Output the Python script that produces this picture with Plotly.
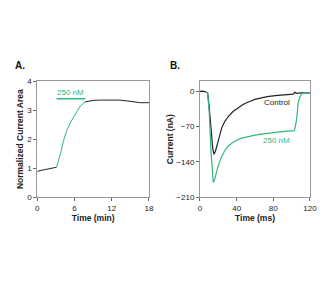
import plotly.graph_objects as go

GREEN = "#35b57a"
FONT = "Liberation Sans, Arial, sans-serif"
W, H = 332, 284

# Panel A data
a_pre_t = [0, 0.5, 1, 1.5, 2, 2.5, 3.1]
a_pre_y = [0.89, 0.92, 0.94, 0.96, 0.98, 1.00, 1.03]
a_drug_t = [3.1, 3.4, 3.7, 4.2, 4.7, 5.3, 6.1, 6.9, 7.7]
a_drug_y = [1.03, 1.25, 1.47, 1.93, 2.27, 2.56, 2.85, 3.14, 3.29]
a_post_t = [7.7, 8.3, 9.0, 10, 11.7, 13.3, 14.9, 16.6, 18]
a_post_y = [3.29, 3.32, 3.34, 3.35, 3.35, 3.35, 3.31, 3.26, 3.26]
a_bar_t = [3.1, 7.7]
a_bar_y = [3.40, 3.40]

# Panel B data
ctrl_t = [0, 3, 6, 8.3, 10, 12, 14, 15.3, 17, 20, 23.6, 27, 30.9, 36, 41.8, 47, 52.7, 60, 67, 75, 85, 95, 101.8, 103.6, 105, 110, 115, 120]
ctrl_y = [0, 0.5, -1, -3, -30, -80, -115, -125, -118, -98, -73, -60, -50, -40, -32, -26, -21, -16, -13, -10, -8, -6.5, -5.5, -1.4, -4, -3, -3, -3]
drug_t = [6, 8.3, 10, 12, 14.5, 16, 20, 23.5, 27.3, 30.5, 34.5, 40, 45.5, 52, 60, 67, 74.5, 82, 89, 96, 102.9, 104.5, 105.5, 107.3, 110, 113, 120]
drug_y = [-1, -3, -40, -120, -181, -175, -147, -130, -117, -109, -103, -97, -93, -90, -87, -85, -83, -81, -80, -79, -78, -65, -54, -20, -7, -3, -3]

fig = go.Figure()
fig.add_trace(go.Scatter(x=a_pre_t, y=a_pre_y, mode="lines", line=dict(color="#222", width=1), xaxis="x", yaxis="y"))
fig.add_trace(go.Scatter(x=a_drug_t, y=a_drug_y, mode="lines", line=dict(color=GREEN, width=1), xaxis="x", yaxis="y"))
fig.add_trace(go.Scatter(x=a_post_t, y=a_post_y, mode="lines", line=dict(color="#222", width=1), xaxis="x", yaxis="y"))
fig.add_trace(go.Scatter(x=a_bar_t, y=a_bar_y, mode="lines", line=dict(color=GREEN, width=1.5), xaxis="x", yaxis="y"))

fig.add_trace(go.Scatter(x=ctrl_t, y=ctrl_y, mode="lines", line=dict(color="#222", width=1.2), xaxis="x2", yaxis="y2"))
fig.add_trace(go.Scatter(x=drug_t, y=drug_y, mode="lines", line=dict(color=GREEN, width=1.2), xaxis="x2", yaxis="y2"))

axis_common = dict(showgrid=False, zeroline=False, showline=True, linecolor="#999", linewidth=1,
                   mirror=True, ticks="outside", ticklen=3, tickcolor="#666", automargin=False,
                   tickfont=dict(size=8, color="#222", family=FONT))
title_font = dict(size=8.5, family=FONT, color="#222")

fig.update_layout(
    width=W, height=H, margin=dict(l=0, r=0, t=0, b=0),
    paper_bgcolor="white", plot_bgcolor="white", showlegend=False,
    xaxis=dict(domain=[0.1124, 0.4488], range=[0, 18], tickvals=[0, 6, 12, 18], anchor="y",
               title=dict(text="<b>Time (min)</b>", font=title_font, standoff=3), **axis_common),
    yaxis=dict(domain=[0.3063, 0.7137], range=[0, 4], tickvals=[0, 1, 2, 3, 4], anchor="x",
               title=dict(text="<b>Normalized Current Area</b>", font=title_font, standoff=2), **axis_common),
    xaxis2=dict(domain=[0.6024, 0.9337], range=[0, 120], tickvals=[0, 40, 80, 120], anchor="y2",
                title=dict(text="<b>Time (ms)</b>", font=title_font, standoff=3), **axis_common),
    yaxis2=dict(domain=[0.3063, 0.7137], range=[-210, 20], tickvals=[0, -70, -140, -210], anchor="x2",
                title=dict(text="<b>Current (nA)</b>", font=title_font, standoff=1), **axis_common),
    annotations=[
        dict(text="<b>A.</b>", x=20 / W, y=1 - 65 / H, xref="paper", yref="paper", showarrow=False,
             yanchor="middle", xanchor="center", font=dict(size=10, family=FONT, color="#111")),
        dict(text="250 nM", x=5.4, y=3.62, xref="x", yref="y", showarrow=False,
             font=dict(size=8, family=FONT, color=GREEN)),
        dict(text="<b>B.</b>", x=175 / W, y=1 - 65 / H, xref="paper", yref="paper", showarrow=False,
             yanchor="middle", xanchor="center", font=dict(size=10, family=FONT, color="#111")),
        dict(text="Control", x=84, y=-23, xref="x2", yref="y2", showarrow=False,
             font=dict(size=8, family=FONT, color="#222")),
        dict(text="250 nM", x=84, y=-97, xref="x2", yref="y2", showarrow=False,
             font=dict(size=8, family=FONT, color=GREEN)),
    ],
)

fig.write_html("out.html")
